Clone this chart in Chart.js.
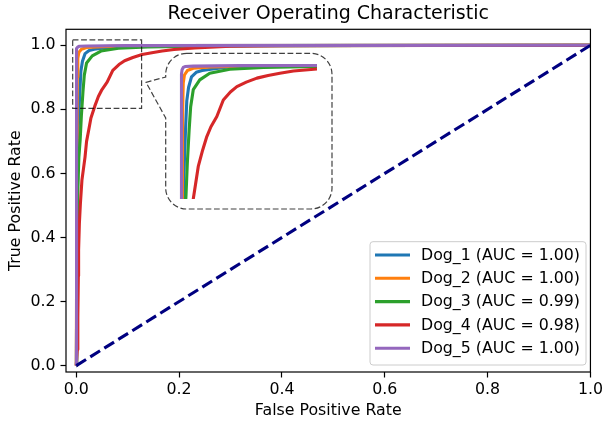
<!DOCTYPE html>
<html><head><meta charset="utf-8">
<script src="https://cdn.jsdelivr.net/npm/chart.js@4.4.0/dist/chart.umd.min.js"></script>
<style>
html,body{margin:0;padding:0;background:#fff;}
#wrap{position:relative;width:606px;height:426px;overflow:hidden;}
#main{position:absolute;left:0;top:0;}
#inset{position:absolute;left:178px;top:61px;}
</style></head><body>
<div id="wrap"><canvas id="main" width="606" height="426"></canvas><canvas id="inset" width="139" height="138"></canvas></div>
<script>
// ---------------- data ----------------
const SERIES_NAMES = ['Dog_1', 'Dog_2', 'Dog_3', 'Dog_4', 'Dog_5'];
const AUC_VALUES = [1.00, 1.00, 0.99, 0.98, 1.00];

const dog1_fpr = [0, 0.002, 0.004, 0.007, 0.009, 0.012, 0.017, 0.025, 0.035, 0.05, 0.08, 0.15, 1];
const dog1_tpr = [0, 0.5, 0.75, 0.86, 0.92, 0.95, 0.974, 0.984, 0.988, 0.991, 0.996, 0.999, 1];

const dog2_fpr = [0, 0.002, 0.003, 0.005, 0.01, 0.02, 0.05, 0.15, 1];
const dog2_tpr = [0, 0.9, 0.96, 0.978, 0.988, 0.993, 0.996, 0.999, 1];

const dog3_fpr = [0, 0.001, 0.003, 0.005, 0.0076, 0.0099, 0.013, 0.0156, 0.02, 0.031, 0.048, 0.082, 0.139, 0.23, 0.35, 1];
const dog3_tpr = [0, 0.3, 0.55, 0.65, 0.706, 0.78, 0.855, 0.907, 0.945, 0.967, 0.982, 0.991, 0.995, 0.997, 0.999, 1];

const dog4_fpr = [0, 0.002, 0.003, 0.004, 0.0045, 0.006, 0.008, 0.011, 0.017, 0.020, 0.024, 0.0285, 0.036, 0.043, 0.050, 0.060, 0.071, 0.083, 0.094, 0.11, 0.128, 0.147, 0.167, 0.19, 0.23, 0.3, 0.4, 1];
const dog4_tpr = [0, 0.05, 0.15, 0.28, 0.36, 0.444, 0.506, 0.579, 0.651, 0.70, 0.734, 0.773, 0.81, 0.84, 0.862, 0.885, 0.922, 0.94, 0.952, 0.962, 0.971, 0.977, 0.982, 0.987, 0.9915, 0.997, 0.999, 1];

const dog5_fpr = [0, 0, 0.001, 0.003, 0.006, 0.02, 0.1, 1];
const dog5_tpr = [0, 0.98, 0.99, 0.995, 0.997, 0.998, 0.999, 1];

const chance_fpr = [0, 1];
const chance_tpr = [0, 1];

const X_TICKS = [0, 0.2, 0.4, 0.6, 0.8, 1.0];
const Y_TICKS = [0, 0.2, 0.4, 0.6, 0.8, 1.0];

// ---------------- styling ----------------
const COLORS = ['#1f77b4', '#ff7f0e', '#2ca02c', '#d62728', '#9467bd'];
const FONT = "'DejaVu Sans', sans-serif";
const FS = 15.8;
const ALL_FPR = [dog1_fpr, dog2_fpr, dog3_fpr, dog4_fpr, dog5_fpr];
const ALL_TPR = [dog1_tpr, dog2_tpr, dog3_tpr, dog4_tpr, dog5_tpr];
const ZOOM_BOX = {x0: -0.007, x1: 0.127, y0: 0.803, y1: 1.017};

Chart.defaults.color = '#000';
Chart.defaults.font.family = FONT;

const pts = (xs, ys) => xs.map((x, i) => ({x: x, y: ys[i]}));

function rocDatasets() {
  return SERIES_NAMES.map((name, i) => ({
    label: name + ' (AUC = ' + AUC_VALUES[i].toFixed(2) + ')',
    data: pts(ALL_FPR[i], ALL_TPR[i]),
    borderColor: COLORS[i],
    backgroundColor: COLORS[i],
    borderWidth: 3.1,
    pointRadius: 0,
    tension: 0,
    fill: false,
    order: 5 - i,
    borderJoinStyle: 'round',
    borderCapStyle: 'butt'
  }));
}

const mainDatasets = rocDatasets();
mainDatasets.push({
  label: 'chance',
  data: pts(chance_fpr, chance_tpr),
  borderColor: '#000080',
  borderWidth: 3.1,
  borderDash: [11.5, 5],
  pointRadius: 0,
  fill: false,
  order: 0
});

const decor = {
  id: 'decor',
  afterDatasetsDraw(chart) {
    const {ctx, chartArea: ca, scales: {x, y}} = chart;
    ctx.save();
    // zoom box
    ctx.strokeStyle = 'rgba(0,0,0,0.75)';
    ctx.lineWidth = 1.2;
    ctx.setLineDash([5.8, 2.6]);
    const bx0 = x.getPixelForValue(ZOOM_BOX.x0), bx1 = x.getPixelForValue(ZOOM_BOX.x1);
    const by0 = y.getPixelForValue(ZOOM_BOX.y0), by1 = y.getPixelForValue(ZOOM_BOX.y1);
    ctx.strokeRect(bx0, by1, bx1 - bx0, by0 - by1);
    // callout around inset
    const L = 165.7, R = 332, T = 53.3, B = 209, r = 21;
    const tipX = 146, tipY = 82.3, p1 = 77, p2 = 118;
    ctx.fillStyle = '#fff';
    ctx.beginPath();
    ctx.moveTo(L + r, T);
    ctx.lineTo(R - r, T);
    ctx.arcTo(R, T, R, T + r, r);
    ctx.lineTo(R, B - r);
    ctx.arcTo(R, B, R - r, B, r);
    ctx.lineTo(L + r, B);
    ctx.arcTo(L, B, L, B - r, r);
    ctx.lineTo(L, p2);
    ctx.lineTo(tipX, tipY);
    ctx.lineTo(L, p1);
    ctx.lineTo(L, T + r);
    ctx.arcTo(L, T, L + r, T, r);
    ctx.closePath();
    ctx.fill();
    ctx.stroke();
    ctx.setLineDash([]);
    // legend
    const lx0 = 370, lx1 = 586, ly0 = 241.7, ly1 = 365;
    ctx.fillStyle = 'rgba(255,255,255,0.8)';
    ctx.strokeStyle = '#cccccc';
    ctx.lineWidth = 1;
    ctx.beginPath();
    ctx.roundRect(lx0, ly0, lx1 - lx0, ly1 - ly0, 3);
    ctx.fill();
    ctx.stroke();
    ctx.font = FS + 'px ' + FONT;
    ctx.textBaseline = 'middle';
    ctx.textAlign = 'left';
    const rowY0 = 255, rowStep = 23.3;
    chart.data.datasets.slice(0, SERIES_NAMES.length).forEach((ds, i) => {
      const yy = rowY0 + i * rowStep;
      ctx.strokeStyle = ds.borderColor;
      ctx.lineWidth = 3.1;
      ctx.beginPath();
      ctx.moveTo(375, yy);
      ctx.lineTo(410, yy);
      ctx.stroke();
      ctx.fillStyle = '#000';
      ctx.fillText(ds.label, 421, yy + 0.5);
    });
    // spines
    ctx.strokeStyle = '#000';
    ctx.lineWidth = 1.2;
    ctx.strokeRect(ca.left, ca.top, ca.right - ca.left, ca.bottom - ca.top);
    ctx.restore();
  }
};

const tickFmt = v => Number(v).toFixed(1);

new Chart(document.getElementById('main'), {
  type: 'line',
  data: {datasets: mainDatasets},
  options: {
    responsive: false,
    animation: false,
    events: [],
    layout: {padding: {left: 0, right: 12, top: 0, bottom: 0}},
    plugins: {
      legend: {display: false},
      tooltip: {enabled: false},
      title: {
        display: true,
        text: 'Receiver Operating Characteristic',
        fullSize: false,
        font: {size: 19, weight: 'normal', family: FONT},
        color: '#000',
        padding: {top: 3, bottom: 3.5}
      }
    },
    scales: {
      x: {
        type: 'linear',
        min: -0.02, max: 1.0,
        afterBuildTicks: ax => { ax.ticks = X_TICKS.map(v => ({value: v})); },
        afterFit: ax => { ax.height = 54; },
        ticks: {callback: tickFmt, font: {size: FS, family: FONT}, color: '#000', padding: 3, maxRotation: 0, autoSkip: false},
        grid: {display: true, drawOnChartArea: false, drawTicks: true, tickLength: 5.5, tickColor: '#000', tickWidth: 1.2},
        border: {display: false},
        title: {display: true, text: 'False Positive Rate', font: {size: FS, family: FONT}, color: '#000', padding: {top: 0, bottom: 6}}
      },
      y: {
        type: 'linear',
        min: -0.02, max: 1.05,
        afterBuildTicks: ax => { ax.ticks = Y_TICKS.map(v => ({value: v})); },
        afterFit: ax => { ax.width = 66; },
        ticks: {callback: tickFmt, font: {size: FS, family: FONT}, color: '#000', padding: 5, autoSkip: false},
        grid: {display: true, drawOnChartArea: false, drawTicks: true, tickLength: 5.5, tickColor: '#000', tickWidth: 1.2},
        border: {display: false},
        title: {display: true, text: 'True Positive Rate', font: {size: FS, family: FONT}, color: '#000', padding: {top: 6.5, bottom: 0}}
      }
    }
  },
  plugins: [decor]
});

// inset (zoomed view)
new Chart(document.getElementById('inset'), {
  type: 'line',
  data: {datasets: rocDatasets()},
  options: {
    responsive: false,
    animation: false,
    events: [],
    layout: {padding: 0},
    plugins: {legend: {display: false}, tooltip: {enabled: false}, title: {display: false}},
    scales: {
      x: {type: 'linear', display: false, min: -0.0059, max: 0.23},
      y: {type: 'linear', display: false, min: 0.7, max: 1.0094}
    }
  }
});
</script>
</body></html>
